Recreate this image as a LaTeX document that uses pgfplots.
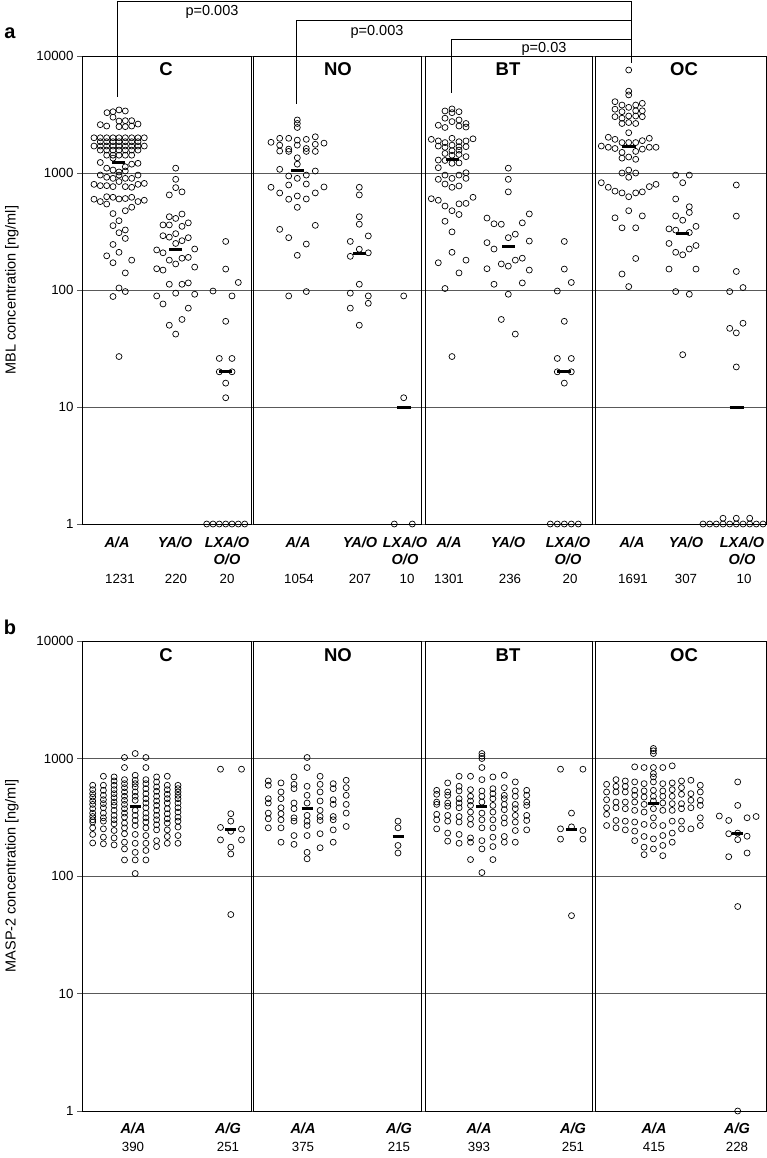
\documentclass[border=0pt]{standalone}
\usepackage{fontspec}
\setmainfont{Liberation Sans}
\usepackage{pgfplots}
\pgfplotsset{compat=1.18}
\pgfplotsset{
  mydots/.style={only marks, mark=o, mark size=3pt, mark options={black, line width=0.7pt}},
  mymed/.style={black, line width=3pt, mark=none}
}
\begin{document}
\begin{tikzpicture}[x=1pt,y=1pt]
\useasboundingbox (0,0) rectangle (767,-1158);
% ---------------- panel a ----------------
\begin{axis}[scale only axis, width=686pt, height=468pt, at={(82pt,-524pt)}, anchor=south west,
    xmin=82, xmax=768, ymode=log, ymin=1, ymax=10000,
    clip=false, axis line style={draw=none}, xtick=\empty,
    ytick={1,10,100,1000,10000}, yticklabels={1,10,100,1000,10000},
    ytick pos=left, tick align=outside, major tick length=5pt, yminorticks=false,
    ymajorgrids, grid style={black!65, line width=0.7pt},
    major tick style={black!65, line width=0.7pt},
    yticklabel style={font=\fontsize{13.3}{14}\selectfont}]
\draw[black, line width=0.8pt] (axis cs:82,1) rectangle (axis cs:251,10000);
\draw[black, line width=0.8pt] (axis cs:253.5,1) rectangle (axis cs:421.5,10000);
\draw[black, line width=0.8pt] (axis cs:425,1) rectangle (axis cs:592,10000);
\draw[black, line width=0.8pt] (axis cs:595.5,1) rectangle (axis cs:766,10000);
% C A/A
\addplot[mydots] coordinates {(119,3460) (113,3340) (107,3280) (125.3,3390)
(113,3000) (100.3,2590) (106.7,2520) (119,2780) (125.3,2800) (131.7,2800) (138,2620) (119,2490) (125.3,2490) (131.7,2520)
(94,2000) (100.3,2000) (106.7,2000) (113,2000) (119,2000) (125.3,2000) (131.7,2000) (138,2000) (144.3,2000)
(100.3,1850) (106.7,1850) (113,1850) (119,1850) (125.3,1850) (131.7,1850) (138,1850)
(94,1700) (100.3,1700) (106.7,1700) (113,1700) (119,1700) (125.3,1700) (131.7,1700) (138,1700) (144.3,1700)
(100.3,1570) (106.7,1570) (113,1570) (119,1570) (125.3,1570) (131.7,1570) (138,1570)
(106.7,1420) (113,1420) (119,1420) (125.3,1420) (131.7,1420)
(100.3,1230) (113,1340) (131.7,1190) (138,1210)
(106.7,1100) (113,1060) (119,1020) (125.3,1040) (125.3,1130)
(100.3,961) (106.7,920) (113,900) (119,960) (125.3,900) (131.7,900) (138,960)
(94,800) (100.3,780) (106.7,780) (113,765) (125.3,765) (131.7,755) (138,800) (144.3,815) (119,845)
(94,597) (100.3,570) (106.7,543) (106.7,627) (113,620) (119,600) (125.3,605) (131.7,620) (138,570) (144.3,585)
(131.7,510) (125.3,476) (113,450)
(119,391) (113,355) (125.3,326) (119,309) (125.3,276)
(113,245) (106.7,196) (119,210) (113,171) (131.7,180)
(125.3,140) (119,104) (113,88) (125.3,97) (119,27)};
\addplot[mymed] coordinates {(112,1231) (125,1231)};
% C YA/O
\addplot[mydots] coordinates {(175.7,1100) (175.7,883) (175.7,750) (169.3,650) (182,690)
(169.3,423) (175.7,409) (182,446) (163,360) (169.3,360) (188.3,375) (182,350)
(163,291) (175.7,303) (188.3,280) (169.3,283) (182,264)
(175.7,250) (156.7,220) (163,208) (194.7,224)
(169.3,180) (175.7,167) (182,187) (188.3,190) (194.7,157) (156.7,152) (163,148)
(169.3,112) (182,112) (188.3,115)
(156.7,89) (163,76) (175.7,94) (194.7,92) (188.3,70)
(169.3,50) (182,56) (175.7,42)};
\addplot[mymed] coordinates {(169,220) (182,220)};
% C LXA/O
\addplot[mydots] coordinates {(225.7,260) (225.7,151) (238.3,116) (213,98) (232,89) (225.7,54) (219.3,26) (232,26) (219.3,20) (232,20) (225.7,16) (225.7,12)
(206.7,1) (213,1) (219.3,1) (225.7,1) (232,1) (238.3,1) (244.7,1)};
\addplot[mymed] coordinates {(219.3,20) (232,20)};
% NO A/A
\addplot[mydots] coordinates {(297.3,2840) (297.3,2650) (297.3,2450)
(279.7,1980) (288.7,1980) (297.3,1910) (306.3,1940) (315.3,2040)
(271,1830) (279.7,1730) (288.7,1600) (297.3,1730) (306.3,1620) (315.3,1760) (324,1800) (279.7,1540) (288.7,1530) (306.3,1530) (315.3,1530)
(297.3,1350) (297.3,1190) (279.7,1075) (315.3,1040)
(288.7,943) (297.3,900) (306.3,960)
(271,755) (279.7,675) (288.7,790) (306.3,805) (324,760) (288.7,597) (297.3,636) (306.3,600) (315.3,676)
(297.3,509) (279.7,330) (288.7,280) (315.3,357) (306.3,247) (297.3,198) (288.7,89) (306.3,97)};
\addplot[mymed] coordinates {(291,1054) (304,1054)};
% NO YA/O
\addplot[mydots] coordinates {(359.3,755) (359.3,650) (359.3,423) (359.3,365) (368.3,290) (350.3,260) (359.3,223) (350.3,194) (368.3,208) (359.3,112) (350.3,94) (368.3,89) (368.3,77) (350.3,70) (359.3,50)};
\addplot[mymed] coordinates {(353,207) (366,207)};
% NO LXA/O
\addplot[mydots] coordinates {(403.7,89) (403.7,12) (394.3,1) (412.3,1)};
\addplot[mymed] coordinates {(397,10) (411,10)};
% BT A/A
\addplot[mydots] coordinates {(445,3390) (452,3530) (459,3340) (452,3280)
(445,2940) (452,2750) (459,2840) (438.3,2560) (445,2450) (459,2520) (466,2650) (466,2470)
(431.3,1940) (438.3,1880) (445,1820) (452,1980) (459,1850) (466,1880) (473,1960)
(438.3,1700) (445,1660) (452,1730) (459,1680) (466,1680)
(445,1470) (452,1550) (459,1570) (452,1420) (459,1440) (466,1380)
(438.3,1290) (445,1280) (452,1210) (459,1220) (438.3,1110) (466,1005)
(438.3,883) (445,960) (445,805) (452,900) (452,755) (459,775) (459,960) (466,900)
(431.3,603) (438.3,585) (445,522) (459,545) (466,550) (473,620)
(452,476) (459,442) (445,387) (452,314)
(452,210) (438.3,171) (466,180) (459,140) (445,103) (452,27)};
\addplot[mymed] coordinates {(445.5,1301) (458.5,1301)};
% BT YA/O
\addplot[mydots] coordinates {(508.3,1100) (508.3,883) (508.3,690)
(487,412) (494,368) (501.3,365) (529.3,447) (522.3,375) (515.3,300) (508.3,280) (487,254) (494,224) (529.3,262)
(501.3,167) (508.3,160) (515.3,180) (522.3,187) (487,152) (529.3,148)
(494,112) (522.3,115) (508.3,92) (501.3,56) (515.3,42)};
\addplot[mymed] coordinates {(502,236) (515,236)};
% BT LXA/O
\addplot[mydots] coordinates {(564.3,260) (564.3,151) (571.3,116) (557.3,98) (564.3,54) (557.3,26) (571.3,26) (557.3,20) (571.3,20) (564.3,16)
(550.3,1) (557.3,1) (564.3,1) (571.3,1) (578.3,1)};
\addplot[mymed] coordinates {(557.3,20) (571.3,20)};
% OC A/A
\addplot[mydots] coordinates {(628.7,7590) (628.7,5000) (628.7,4650)
(615,4070) (622,3810) (628.7,3640) (635.7,3810) (642.3,3940)
(615,3510) (622,3340) (635.7,3400) (642.3,3400)
(615,3030) (622,2940) (628.7,3070) (635.7,3070) (642.3,3030)
(622,2650) (628.7,2700) (635.7,2650) (628.7,2210)
(608.3,2020) (615,1940) (642.3,1890) (649.3,1980) (622,1820) (628.7,1820) (635.7,1820)
(601.3,1700) (608.3,1660) (615,1620) (642.3,1600) (649.3,1660) (656,1660)
(622,1500) (635.7,1530) (622,1340) (628.7,1370) (635.7,1310)
(622,1000) (628.7,1060) (635.7,1000) (628.7,920)
(601.3,826) (608.3,755) (615,700) (622,676) (628.7,627) (635.7,676) (642.3,690) (649.3,765) (656,800)
(628.7,476) (615,414) (642.3,430) (622,340) (635.7,340)
(635.7,186) (622,137) (628.7,107)};
\addplot[mymed] coordinates {(622,1691) (636,1691)};
% OC YA/O
\addplot[mydots] coordinates {(675.7,960) (689.3,960) (682.7,826)
(675.7,600) (689.3,515) (675.7,430) (682.7,395) (689.3,460)
(669,333) (675.7,325) (696,350) (689.3,310)
(669,250) (675.7,210) (682.7,200) (689.3,224) (696,240)
(669,151) (696,151) (675.7,97) (689.3,92) (682.7,28)};
\addplot[mymed] coordinates {(676,307) (689,307)};
% OC LXA/O
\addplot[mydots] coordinates {(736.3,790) (736.3,428) (736.3,144) (729.7,97) (743,105) (729.7,47) (736.3,43) (743,52) (736.3,22)
(703,1) (709.7,1) (716.3,1) (723,1) (729.7,1) (736.3,1) (743,1) (749.7,1) (756.3,1) (763,1)
(723,1.12) (736.3,1.12) (749.7,1.12)};
\addplot[mymed] coordinates {(729.7,10) (743.7,10)};
\end{axis}
% ---------------- panel b ----------------
\begin{axis}[scale only axis, width=686pt, height=470pt, at={(82pt,-1111pt)}, anchor=south west,
    xmin=82, xmax=768, ymode=log, ymin=1, ymax=10000,
    clip=false, axis line style={draw=none}, xtick=\empty,
    ytick={1,10,100,1000,10000}, yticklabels={1,10,100,1000,10000},
    ytick pos=left, tick align=outside, major tick length=5pt, yminorticks=false,
    ymajorgrids, grid style={black!65, line width=0.7pt},
    major tick style={black!65, line width=0.7pt},
    yticklabel style={font=\fontsize{13.3}{14}\selectfont}]
\draw[black, line width=0.8pt] (axis cs:82,1) rectangle (axis cs:251,10000);
\draw[black, line width=0.8pt] (axis cs:253.5,1) rectangle (axis cs:421.5,10000);
\draw[black, line width=0.8pt] (axis cs:425,1) rectangle (axis cs:592,10000);
\draw[black, line width=0.8pt] (axis cs:595.5,1) rectangle (axis cs:766,10000);
% C A/A
\addplot[mydots] coordinates {
(92.7,592) (92.7,543) (92.7,502) (92.7,470) (92.7,435) (92.7,407) (92.7,374) (92.7,343) (92.7,321) (92.7,301) (92.7,288) (92.7,257) (92.7,226) (92.7,191)
(103.4,706) (103.4,592) (103.4,536) (103.4,486) (103.4,446) (103.4,413) (103.4,381) (103.4,343) (103.4,313) (103.4,293) (103.4,252) (103.4,214) (103.4,188)
(114.1,697) (114.1,644) (114.1,592) (114.1,543) (114.1,502) (114.1,464) (114.1,426) (114.1,399) (114.1,362) (114.1,328) (114.1,301) (114.1,278) (114.1,244) (114.1,211) (114.1,184)
(124.5,1020) (124.5,838) (124.5,661) (124.5,611) (124.5,565) (124.5,519) (124.5,477) (124.5,441) (124.5,407) (124.5,374) (124.5,343) (124.5,317) (124.5,282) (124.5,257) (124.5,229) (124.5,194) (124.5,170) (124.5,137)
(135.2,1103) (135.2,720) (135.2,653) (135.2,611) (135.2,573) (135.2,519) (135.2,477) (135.2,441) (135.2,362) (135.2,328) (135.2,297) (135.2,269) (135.2,226) (135.2,190) (135.2,159) (135.2,137) (135.2,105)
(145.9,1020) (145.9,838) (145.9,661) (145.9,611) (145.9,554) (145.9,502) (145.9,455) (145.9,418) (145.9,381) (145.9,343) (145.9,313) (145.9,288) (145.9,257) (145.9,221) (145.9,190) (145.9,165) (145.9,137)
(156.6,697) (156.6,632) (156.6,573) (156.6,526) (156.6,477) (156.6,435) (156.6,399) (156.6,362) (156.6,328) (156.6,301) (156.6,273) (156.6,247) (156.6,200) (156.6,178)
(167.3,706) (167.3,592) (167.3,543) (167.3,496) (167.3,455) (167.3,418) (167.3,374) (167.3,339) (167.3,307) (167.3,282) (167.3,247) (167.3,217) (167.3,190)
(178,592) (178,554) (178,519) (178,486) (178,455) (178,418) (178,381) (178,350) (178,317) (178,293) (178,261) (178,221) (178,190)};
\addplot[mymed] coordinates {(129.7,390) (140.7,390)};
% C A/G
\addplot[mydots] coordinates {(220.5,811) (241.5,811) (230.8,339) (230.8,293) (220.5,259) (241.5,251) (230.8,240) (220.5,203) (241.5,203) (230.8,176) (230.8,154) (230.8,47)};
\addplot[mymed] coordinates {(225.3,251) (236.3,251)};
% NO A/A
\addplot[mydots] coordinates {
(268.3,644) (268.3,592) (268.3,455) (268.3,418) (268.3,343) (268.3,307) (268.3,257)
(281,620) (281,519) (281,455) (281,381) (281,339) (281,301) (281,257) (281,194)
(294,697) (294,603) (294,554) (294,418) (294,374) (294,313) (294,293) (294,221) (294,186)
(307.1,1020) (307.1,838) (307.1,580) (307.1,486) (307.1,418) (307.1,328) (307.1,293) (307.1,269) (307.1,221) (307.1,159) (307.1,140)
(320.1,706) (320.1,603) (320.1,519) (320.1,435) (320.1,362) (320.1,321) (320.1,297) (320.1,229) (320.1,174)
(333.2,611) (333.2,554) (333.2,446) (333.2,407) (333.2,321) (333.2,301) (333.2,247) (333.2,194)
(346.2,653) (346.2,565) (346.2,486) (346.2,407) (346.2,343) (346.2,264)};
\addplot[mymed] coordinates {(301.6,375) (312.6,375)};
% NO A/G
\addplot[mydots] coordinates {(398,293) (398,257) (398,182) (398,157)};
\addplot[mymed] coordinates {(392.5,215) (403.5,215)};
% BT A/A
\addplot[mydots] coordinates {
(436.7,536) (436.7,496) (436.7,426) (436.7,407) (436.7,335) (436.7,301) (436.7,252)
(447.7,620) (447.7,519) (447.7,486) (447.7,418) (447.7,392) (447.7,328) (447.7,293) (447.7,232) (447.7,198)
(459.1,706) (459.1,580) (459.1,530) (459.1,455) (459.1,418) (459.1,381) (459.1,321) (459.1,288) (459.1,226) (459.1,190)
(470.5,706) (470.5,543) (470.5,477) (470.5,435) (470.5,399) (470.5,350) (470.5,307) (470.5,275) (470.5,211) (470.5,194) (470.5,138)
(481.9,1103) (481.9,1047) (481.9,1000) (481.9,838) (481.9,661) (481.9,530) (481.9,477) (481.9,426) (481.9,343) (481.9,301) (481.9,257) (481.9,200) (481.9,170) (481.9,107)
(492.9,697) (492.9,554) (492.9,502) (492.9,455) (492.9,399) (492.9,350) (492.9,301) (492.9,257) (492.9,214) (492.9,178) (492.9,138)
(504.3,720) (504.3,565) (504.3,486) (504.3,455) (504.3,407) (504.3,367) (504.3,313) (504.3,282) (504.3,217) (504.3,194)
(515.3,632) (515.3,530) (515.3,477) (515.3,407) (515.3,374) (515.3,328) (515.3,288) (515.3,244) (515.3,194)
(526.7,536) (526.7,486) (526.7,426) (526.7,399) (526.7,328) (526.7,297) (526.7,247)};
\addplot[mymed] coordinates {(476.4,393) (487.4,393)};
% BT A/G
\addplot[mydots] coordinates {(560.5,811) (582.9,811) (571.5,343) (571.5,262) (560.5,252) (582.9,244) (560.5,206) (582.9,206) (571.5,46)};
\addplot[mymed] coordinates {(566,251) (577,251)};
% OC A/A
\addplot[mydots] coordinates {
(606.6,603) (606.6,519) (606.6,446) (606.6,381) (606.6,335) (606.6,269)
(616,661) (616,580) (616,519) (616,426) (616,381) (616,297) (616,257)
(625.3,644) (625.3,580) (625.3,519) (625.3,426) (625.3,374) (625.3,293) (625.3,247)
(634.7,849) (634.7,632) (634.7,536) (634.7,486) (634.7,426) (634.7,362) (634.7,288) (634.7,241) (634.7,200)
(644.1,838) (644.1,611) (644.1,530) (644.1,470) (644.1,407) (644.1,350) (644.1,275) (644.1,217) (644.1,176) (644.1,152)
(653.4,1218) (653.4,1163) (653.4,1103) (653.4,838) (653.4,744) (653.4,697) (653.4,632) (653.4,536) (653.4,477) (653.4,435) (653.4,374) (653.4,313) (653.4,269) (653.4,207) (653.4,170)
(662.8,838) (662.8,611) (662.8,530) (662.8,477) (662.8,418) (662.8,362) (662.8,269) (662.8,221) (662.8,182) (662.8,149)
(672.2,866) (672.2,620) (672.2,543) (672.2,477) (672.2,413) (672.2,362) (672.2,293) (672.2,232) (672.2,194)
(681.5,644) (681.5,565) (681.5,496) (681.5,413) (681.5,374) (681.5,293) (681.5,252)
(690.9,653) (690.9,502) (690.9,441) (690.9,381) (690.9,252)
(700.3,592) (700.3,519) (700.3,441) (700.3,399) (700.3,313) (700.3,269)};
\addplot[mymed] coordinates {(647.9,415) (658.9,415)};
% OC A/G
\addplot[mydots] coordinates {(737.7,632) (737.7,399) (719.3,324) (728.7,297) (747.1,313) (756.1,321) (728.7,229) (737.7,232) (747.1,218) (737.7,204) (728.7,146) (747.1,157) (737.7,55) (737.7,1)};
\addplot[mymed] coordinates {(732.2,228) (743.2,228)};
\end{axis}
% ---------------- annotations ----------------
\begin{scope}[font=\fontsize{14.5}{15}\selectfont]
\draw[black, line width=0.8pt] (117,-97) -- (117,-1) -- (631,-1) -- (631,-63);
\draw[black, line width=0.8pt] (296,-104) -- (296,-20) -- (631,-20);
\draw[black, line width=0.8pt] (451,-93) -- (451,-39) -- (631,-39);
\node at (212,-12) {p=0.003};
\node at (377,-32) {p=0.003};
\node at (544,-49) {p=0.03};
\end{scope}
\begin{scope}[font=\fontsize{18.5}{20}\selectfont\bfseries]
\node at (166,-69) {C}; \node at (338,-69) {NO}; \node at (508,-69) {BT}; \node at (684,-69) {OC};
\node at (166,-655) {C}; \node at (338,-655) {NO}; \node at (508,-655) {BT}; \node at (684,-655) {OC};
\node[font=\fontsize{20}{22}\selectfont\bfseries] at (10,-33) {a};
\node[font=\fontsize{20}{22}\selectfont\bfseries] at (10,-627) {b};
\end{scope}
\node[rotate=90, font=\fontsize{14.5}{15}\selectfont] at (12,-290) {MBL concentration [ng/ml]};
\node[rotate=90, font=\fontsize{14.5}{15}\selectfont] at (12,-876) {MASP-2 concentration [ng/ml]};
\begin{scope}[font=\fontsize{14.5}{15}\selectfont\bfseries\itshape]
\node at (117,-542) {A/A}; \node at (175,-542) {YA/O}; \node at (227,-542) {LXA/O}; \node at (227,-559) {O/O};
\node at (298,-542) {A/A}; \node at (360,-542) {YA/O}; \node at (405,-542) {LXA/O}; \node at (405,-559) {O/O};
\node at (449,-542) {A/A}; \node at (508,-542) {YA/O}; \node at (568,-542) {LXA/O}; \node at (568,-559) {O/O};
\node at (632,-542) {A/A}; \node at (686,-542) {YA/O}; \node at (742,-542) {LXA/O}; \node at (742,-559) {O/O};
\node at (133,-1128) {A/A}; \node at (228,-1128) {A/G};
\node at (303,-1128) {A/A}; \node at (399,-1128) {A/G};
\node at (479,-1128) {A/A}; \node at (573,-1128) {A/G};
\node at (654,-1128) {A/A}; \node at (737,-1128) {A/G};
\end{scope}
\begin{scope}[font=\fontsize{13.3}{14}\selectfont]
\node at (120,-579) {1231}; \node at (176,-579) {220}; \node at (227,-579) {20};
\node at (299,-579) {1054}; \node at (360,-579) {207}; \node at (407,-579) {10};
\node at (449,-579) {1301}; \node at (510,-579) {236}; \node at (570,-579) {20};
\node at (633,-579) {1691}; \node at (686,-579) {307}; \node at (744,-579) {10};
\node at (133,-1147) {390}; \node at (228,-1147) {251};
\node at (303,-1147) {375}; \node at (399,-1147) {215};
\node at (479,-1147) {393}; \node at (573,-1147) {251};
\node at (654,-1147) {415}; \node at (737,-1147) {228};
\end{scope}
\end{tikzpicture}
\end{document}
